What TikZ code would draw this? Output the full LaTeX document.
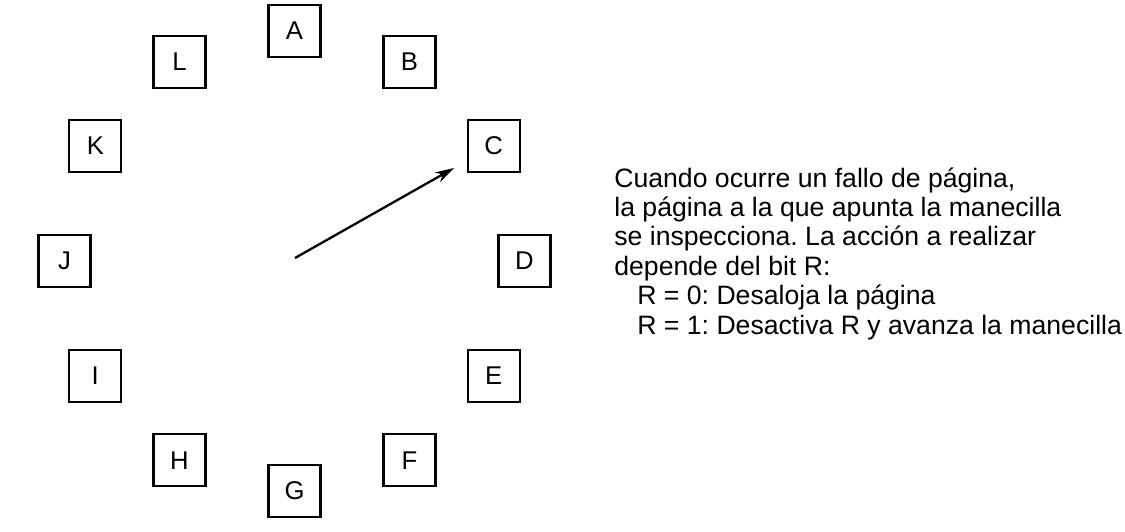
\documentclass[tikz,border=0pt]{standalone}
\usepackage{fontspec}
\setmainfont{Liberation Sans}
\usetikzlibrary{arrows.meta}
\tikzset{
  pagebox/.style={draw, line width=1.2pt, minimum size=1.04cm, inner sep=0pt,
    font=\fontsize{14.6}{17}\selectfont},
  hand/.style={line width=1.3pt, -{Stealth[length=0.38cm, width=0.22cm]}},
  note/.style={align=left, inner sep=0pt, font=\fontsize{15.15}{16.7}\selectfont}
}
\frenchspacing
\begin{document}
\begin{tikzpicture}
  \useasboundingbox (-5.89,-5.40) rectangle (16.61,5.22);
  % pages round the clock
  \foreach \name [count=\i from 0] in {A,B,C,D,E,F,G,H,I,J,K,L}
    \node[pagebox] (\name) at ({90-30*\i}:4.6) {\name};
  \coordinate (hub) at (0.01,0.06);
  \coordinate (tip) at (3.19,1.86);
  \draw[hand] (hub) -- (tip);
  \node[note, anchor=base west] (text) at (6.39,-1.46)
    {Cuando ocurre un fallo de página,\\
     la página a la que apunta la manecilla\\
     se inspecciona. La acción a realizar\\
     depende del bit R:\\
     \hspace*{0.46cm}R = 0: Desaloja la página\\
     \hspace*{0.46cm}R = 1: Desactiva R y avanza la manecilla};
\end{tikzpicture}
\end{document}
